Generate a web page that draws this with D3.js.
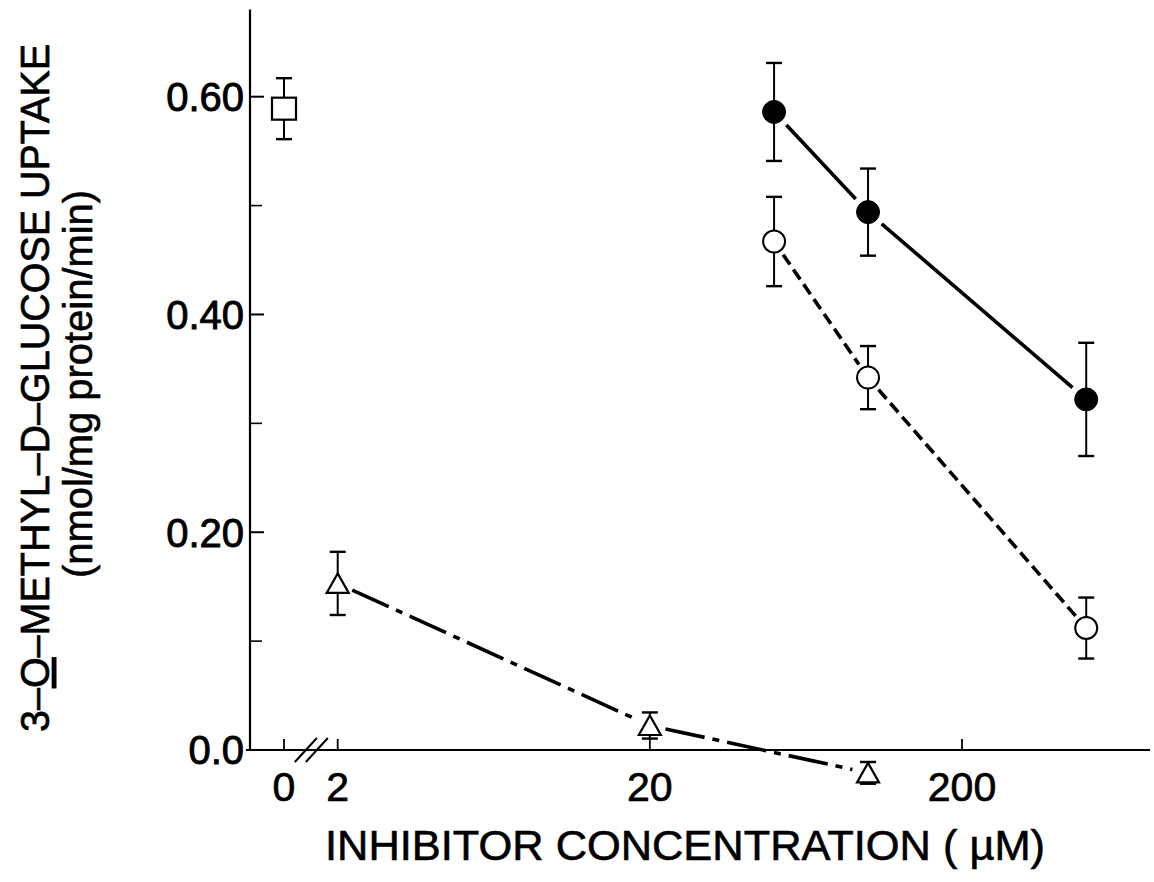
<!DOCTYPE html>
<html>
<head>
<meta charset="utf-8">
<script src="https://cdn.jsdelivr.net/npm/d3@7"></script>
<style>
  html, body { margin: 0; padding: 0; background: #fff; }
  svg { display: block; }
  text { font-family: "Liberation Sans", Arial, Helvetica, sans-serif; fill: #000; }
</style>
</head>
<body>
<svg id="chart" width="1154" height="882"></svg>
<script>
// ---------------- data ----------------
const controlConc   = [0];
const controlUptake = [0.589];
const controlErr    = [0.028];

const filledConc   = [50, 100, 500];
const filledUptake = [0.586, 0.494, 0.322];
const filledErr    = [0.045, 0.040, 0.052];

const openConc   = [50, 100, 500];
const openUptake = [0.467, 0.342, 0.112];
const openErr    = [0.041, 0.029, 0.028];

const triConc   = [2, 20, 100];
const triUptake = [0.153, 0.0225, -0.021];
const triErr    = [0.029, 0.012, 0.010];

const xTickValues = [0, 2, 20, 200];
const xTickLabels = ["0", "2", "20", "200"];
const yMajorTicks = [0, 0.2, 0.4, 0.6];
const yMajorLabels = ["0.0", "0.20", "0.40", "0.60"];
const yMinorTicks = [0.1, 0.3, 0.5];

const xTitle = "INHIBITOR CONCENTRATION ( µM)";
const yTitlePre = "3–", yTitleUnder = "O", yTitlePost = "–METHYL–D–GLUCOSE UPTAKE";
const yTitle2 = "(nmol/mg protein/min)";

// ---------------- layout ----------------
const svg = d3.select("#chart");
const axisX = 250, axisY = 750, axisRight = 1150;
const zeroX = 284;

const x = d3.scaleLog().domain([2, 200]).range([337.7, 962]);
const xPos = c => c === 0 ? zeroX : x(c);
const y = d3.scaleLinear().domain([0, 0.6]).range([axisY, 96.7]);

const g = svg.append("g");

// axes lines
g.append("line").attr("x1", axisX).attr("x2", axisX)
  .attr("y1", y(0.68)).attr("y2", axisY)
  .attr("stroke", "#000").attr("stroke-width", 2.2);
g.append("line").attr("x1", axisX - 4).attr("x2", axisRight)
  .attr("y1", axisY).attr("y2", axisY)
  .attr("stroke", "#000").attr("stroke-width", 2.2);

// y ticks
g.selectAll(".ymaj").data(yMajorTicks).join("line")
  .attr("x1", axisX).attr("x2", axisX + 14)
  .attr("y1", d => y(d)).attr("y2", d => y(d))
  .attr("stroke", "#000").attr("stroke-width", 2);
g.selectAll(".ymin").data(yMinorTicks).join("line")
  .attr("x1", axisX).attr("x2", axisX + 12)
  .attr("y1", d => y(d)).attr("y2", d => y(d))
  .attr("stroke", "#000").attr("stroke-width", 1.6);
g.selectAll(".ylab").data(yMajorTicks).join("text")
  .attr("x", axisX - 6).attr("y", d => y(d))
  .attr("dy", "0.36em").attr("text-anchor", "end")
  .attr("font-size", 40).attr("stroke", "#000").attr("stroke-width", 0.9)
  .text((d, i) => yMajorLabels[i]);

// x ticks
g.selectAll(".xt").data(xTickValues).join("line")
  .attr("x1", d => xPos(d)).attr("x2", d => xPos(d))
  .attr("y1", axisY).attr("y2", axisY - 11)
  .attr("stroke", "#000").attr("stroke-width", 1.8);
g.selectAll(".xlab").data(xTickValues).join("text")
  .attr("x", d => xPos(d)).attr("y", axisY + 51)
  .attr("text-anchor", "middle")
  .attr("font-size", 41).attr("stroke", "#000").attr("stroke-width", 0.7)
  .text((d, i) => xTickLabels[i]);

// axis break marks
const bx = (zeroX + x(2)) / 2;
[-5, 6].forEach(o => {
  g.append("line")
    .attr("x1", bx + o - 11).attr("y1", axisY + 12)
    .attr("x2", bx + o + 11).attr("y2", axisY - 12)
    .attr("stroke", "#000").attr("stroke-width", 2);
});

// titles
g.append("text").attr("x", 685).attr("y", 860)
  .attr("text-anchor", "middle").attr("font-size", 42)
  .attr("textLength", 720).attr("lengthAdjust", "spacingAndGlyphs")
  .attr("stroke", "#000").attr("stroke-width", 0.6)
  .text(xTitle);

const yt = g.append("text")
  .attr("transform", "translate(49,388) rotate(-90)")
  .attr("text-anchor", "middle").attr("font-size", 41)
  .attr("textLength", 688).attr("lengthAdjust", "spacingAndGlyphs")
  .attr("stroke", "#000").attr("stroke-width", 0.7);
yt.append("tspan").text(yTitlePre);
yt.append("tspan").attr("text-decoration", "underline").text(yTitleUnder);
yt.append("tspan").text(yTitlePost);

g.append("text")
  .attr("transform", "translate(92,384) rotate(-90)")
  .attr("text-anchor", "middle").attr("font-size", 40)
  .attr("textLength", 388).attr("lengthAdjust", "spacingAndGlyphs")
  .attr("stroke", "#000").attr("stroke-width", 0.6)
  .text(yTitle2);

// ---------------- series ----------------
function pts(cs, vs, es) {
  return cs.map((c, i) => ({ px: xPos(c), py: y(vs[i]), top: y(vs[i] + es[i]), bot: y(vs[i] - es[i]) }));
}
const control = pts(controlConc, controlUptake, controlErr);
const filled  = pts(filledConc, filledUptake, filledErr);
const open    = pts(openConc, openUptake, openErr);
const tri     = pts(triConc, triUptake, triErr);

function connect(p, gap, dash) {
  for (let i = 0; i < p.length - 1; i++) {
    const a = p[i], b = p[i + 1];
    const dx = b.px - a.px, dy = b.py - a.py, L = Math.hypot(dx, dy);
    const ux = dx / L, uy = dy / L;
    g.append("line")
      .attr("x1", a.px + ux * gap).attr("y1", a.py + uy * gap)
      .attr("x2", b.px - ux * gap).attr("y2", b.py - uy * gap)
      .attr("stroke", "#000").attr("stroke-width", 3.6)
      .attr("stroke-dasharray", dash);
  }
}
connect(filled, 18, null);
connect(open, 16, "12,6");
connect(tri, 16, "40,8,7,8");

function errbars(p) {
  const eb = g.append("g").attr("stroke", "#000");
  p.forEach(d => {
    eb.append("line").attr("x1", d.px).attr("x2", d.px).attr("y1", d.top).attr("y2", d.bot).attr("stroke-width", 2);
    [d.top, d.bot].forEach(yy => eb.append("line")
      .attr("x1", d.px - 8).attr("x2", d.px + 8).attr("y1", yy).attr("y2", yy).attr("stroke-width", 2.4));
  });
}
errbars(control); errbars(filled); errbars(open); errbars(tri);

// markers
g.selectAll(".sq").data(control).join("rect")
  .attr("x", d => d.px - 12).attr("y", d => d.py - 11)
  .attr("width", 24).attr("height", 22)
  .attr("fill", "#fff").attr("stroke", "#000").attr("stroke-width", 2.2);
g.selectAll(".fc").data(filled).join("circle")
  .attr("cx", d => d.px).attr("cy", d => d.py).attr("r", 11.5)
  .attr("fill", "#000").attr("stroke", "#000").attr("stroke-width", 1);
g.selectAll(".oc").data(open).join("circle")
  .attr("cx", d => d.px).attr("cy", d => d.py).attr("r", 11)
  .attr("fill", "#fff").attr("stroke", "#000").attr("stroke-width", 2);
g.selectAll(".tr").data(tri).join("path")
  .attr("d", d => `M${d.px},${d.py - 10} L${d.px + 11},${d.py + 9.5} L${d.px - 11},${d.py + 9.5} Z`)
  .attr("fill", "#fff").attr("stroke", "#000").attr("stroke-width", 2.2);
</script>
</body>
</html>
